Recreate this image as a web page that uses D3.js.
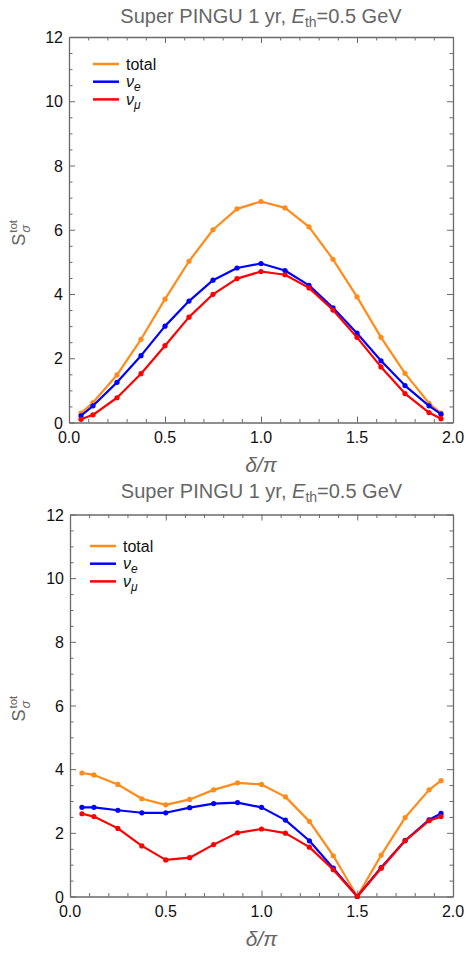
<!DOCTYPE html>
<html>
<head>
<meta charset="utf-8">
<script src="https://cdn.jsdelivr.net/npm/d3@7"></script>
<style>
  body { margin: 0; background: #fff; }
  svg { display: block; font-family: "Liberation Sans", Arial, sans-serif; }
</style>
</head>
<body>
<div id="chart"></div>
<script>
// delta / pi sample points
const deltaVals = [0.0625, 0.125, 0.25, 0.375, 0.5, 0.625, 0.75, 0.875, 1.0,
                   1.125, 1.25, 1.375, 1.5, 1.625, 1.75, 1.875, 1.9375];

// upper panel
const topTotal = [0.29, 0.62, 1.48, 2.59, 3.84, 5.02, 6.0, 6.65, 6.88,
                  6.68, 6.09, 5.08, 3.91, 2.65, 1.53, 0.60, 0.29];
const topNuE   = [0.21, 0.52, 1.25, 2.08, 3.0, 3.78, 4.43, 4.81, 4.95,
                  4.73, 4.27, 3.57, 2.78, 1.92, 1.15, 0.52, 0.26];
const topNuMu  = [0.10, 0.24, 0.77, 1.52, 2.39, 3.28, 3.99, 4.48, 4.70,
                  4.60, 4.19, 3.50, 2.65, 1.73, 0.90, 0.31, 0.12];

// lower panel
const botTotal = [3.88, 3.82, 3.52, 3.07, 2.88, 3.05, 3.35, 3.57, 3.52,
                  3.13, 2.36, 1.28, 0.0, 1.30, 2.48, 3.35, 3.64];
const botNuE   = [2.80, 2.80, 2.71, 2.63, 2.63, 2.79, 2.92, 2.95, 2.80,
                  2.40, 1.75, 0.89, 0.0, 0.91, 1.76, 2.41, 2.61];
const botNuMu  = [2.60, 2.51, 2.14, 1.59, 1.15, 1.22, 1.63, 2.0, 2.12,
                  1.99, 1.55, 0.84, 0.0, 0.89, 1.75, 2.38, 2.51];

const xTicks = [0, 0.5, 1.0, 1.5, 2.0];
const yTicks = [0, 2, 4, 6, 8, 10, 12];
const seriesNames = ["total", "e", "μ"];
const seriesColors = ["#ff8c1a", "#0000ff", "#ff0000"];

const W = 466, H = 958;
const svg = d3.select("#chart").append("svg")
  .attr("width", W).attr("height", H);

const panels = [
  { series: [topTotal, topNuE, topNuMu], left: 69, right: 453, top: 37, bottom: 422.5,
    titleY: 23, legX: 93, legY: 64 },
  { series: [botTotal, botNuE, botNuMu], left: 70, right: 453, top: 514.5, bottom: 896.5,
    titleY: 498, legX: 90, legY: 546 }
];

panels.forEach(p => {
  const x = d3.scaleLinear().domain([0, 2]).range([p.left, p.right]);
  const y = d3.scaleLinear().domain([0, 12]).range([p.bottom, p.top]);
  const g = svg.append("g");

  // title
  const title = g.append("text")
    .attr("x", (p.left + p.right) / 2).attr("y", p.titleY)
    .attr("text-anchor", "middle")
    .attr("fill", "#666").attr("font-size", 20);
  title.append("tspan").text("Super PINGU 1 yr, ");
  title.append("tspan").attr("font-style", "italic").text("E");
  title.append("tspan").attr("font-size", 14).attr("dy", 4).text("th");
  title.append("tspan").attr("dy", -4).text("=0.5 GeV");

  // frame ticks (inward, all sides)
  const frameColor = "#6a6a6a";
  const xMinor = d3.range(0, 2.0001, 0.1);
  const yMinor = d3.range(0, 12.0001, 0.5);
  const isMajor = (v, step) => Math.abs(v / step - Math.round(v / step)) < 1e-6;

  const axB = g.append("g").attr("transform", `translate(0,${p.bottom})`)
    .call(d3.axisBottom(x).tickValues(xMinor).tickSizeOuter(0).tickFormat(""));
  const axT = g.append("g").attr("transform", `translate(0,${p.top})`)
    .call(d3.axisTop(x).tickValues(xMinor).tickSizeOuter(0).tickFormat(""));
  const axL = g.append("g").attr("transform", `translate(${p.left},0)`)
    .call(d3.axisLeft(y).tickValues(yMinor).tickSizeOuter(0).tickFormat(""));
  const axR = g.append("g").attr("transform", `translate(${p.right},0)`)
    .call(d3.axisRight(y).tickValues(yMinor).tickSizeOuter(0).tickFormat(""));

  axB.selectAll(".tick line").attr("y2", d => isMajor(d, 0.5) ? -6 : -3.5);
  axT.selectAll(".tick line").attr("y2", d => isMajor(d, 0.5) ? 6 : 3.5);
  axL.selectAll(".tick line").attr("x2", d => isMajor(d, 2) ? 6 : 3.5);
  axR.selectAll(".tick line").attr("x2", d => isMajor(d, 2) ? -6 : -3.5);
  [axB, axT, axL, axR].forEach(a => {
    a.selectAll(".tick line").attr("stroke", frameColor).attr("stroke-width", 1);
    a.select(".domain").attr("stroke", frameColor).attr("stroke-width", 1.3);
  });

  // tick labels
  g.selectAll(".xl").data(xTicks).join("text")
    .attr("x", d => x(d)).attr("y", p.bottom + 20.5)
    .attr("text-anchor", "middle").attr("font-size", 16).attr("fill", "#111")
    .text(d => d.toFixed(1));
  g.selectAll(".yl").data(yTicks).join("text")
    .attr("x", p.left - 6).attr("y", d => y(d) + 6)
    .attr("text-anchor", "end").attr("font-size", 16).attr("fill", "#111")
    .text(d => d);

  // axis labels
  g.append("text")
    .attr("x", (p.left + p.right) / 2).attr("y", p.bottom + 49)
    .attr("text-anchor", "middle").attr("font-size", 21).attr("fill", "#666")
    .attr("font-style", "italic")
    .text("δ/π");

  const yl = g.append("g")
    .attr("transform", `translate(25,${(p.top + p.bottom) / 2}) rotate(-90)`)
    .attr("fill", "#666");
  yl.append("text").attr("x", -16).attr("y", 0).attr("font-size", 18).text("S");
  yl.append("text").attr("x", -3).attr("y", 5).attr("font-size", 13)
    .attr("font-style", "italic").text("σ");
  yl.append("text").attr("x", -3).attr("y", -8).attr("font-size", 11.5).text("tot");

  // series
  const line = d3.line().x((d, i) => x(deltaVals[i])).y(d => y(d));
  p.series.forEach((vals, k) => {
    g.append("path").datum(vals)
      .attr("d", line).attr("fill", "none")
      .attr("stroke", seriesColors[k]).attr("stroke-width", 2.2)
      .attr("stroke-linejoin", "round");
    g.selectAll(null).data(vals).join("circle")
      .attr("cx", (d, i) => x(deltaVals[i])).attr("cy", d => y(d))
      .attr("r", 2.6).attr("fill", seriesColors[k]);
  });

  // legend
  seriesNames.forEach((name, k) => {
    const ly = p.legY + k * 17.7;
    g.append("line")
      .attr("x1", p.legX).attr("x2", p.legX + 26)
      .attr("y1", ly).attr("y2", ly)
      .attr("stroke", seriesColors[k]).attr("stroke-width", 2.5);
    const t = g.append("text")
      .attr("x", p.legX + 33).attr("y", ly + 5.5)
      .attr("font-size", 16).attr("fill", "#111");
    if (k === 0) {
      t.text(name);
    } else {
      t.append("tspan").attr("font-style", "italic").text("ν");
      t.append("tspan").attr("font-style", "italic").attr("font-size", 12)
        .attr("dy", 4).text(name);
    }
  });
});
</script>
</body>
</html>
